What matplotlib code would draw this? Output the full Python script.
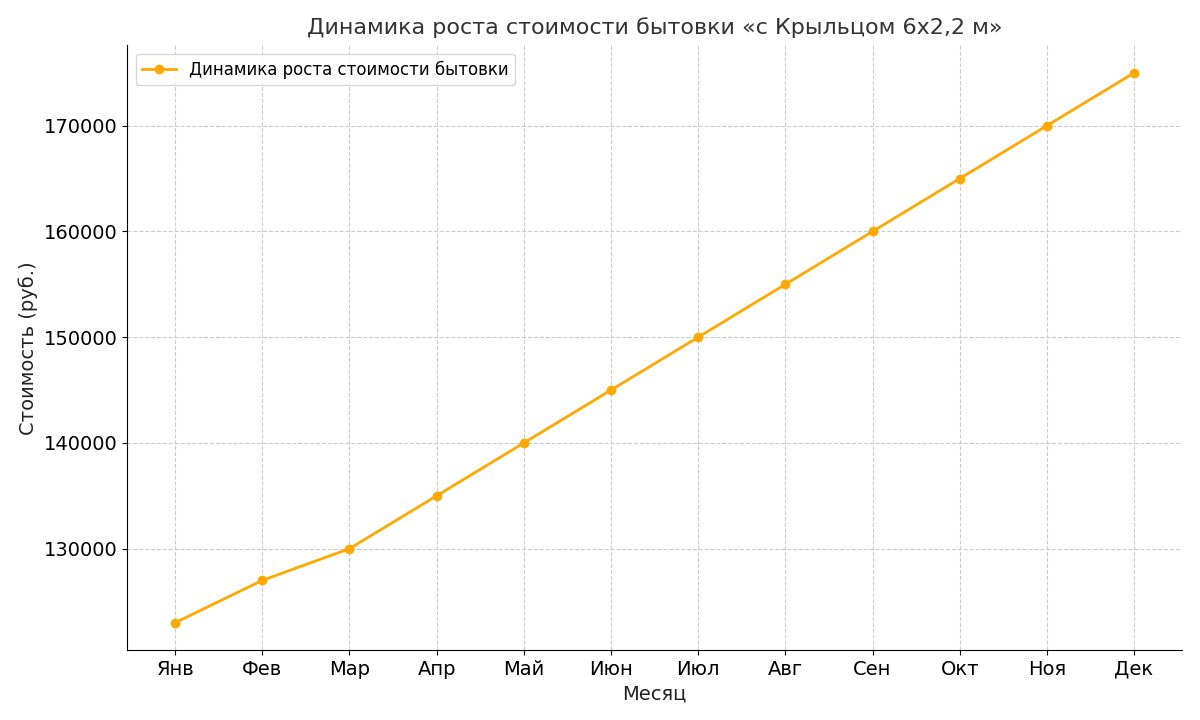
import matplotlib
matplotlib.use("Agg")
import matplotlib.pyplot as plt

months = ["Янв", "Фев", "Мар", "Апр", "Май", "Июн", "Июл", "Авг", "Сен", "Окт", "Ноя", "Дек"]
prices = [123000, 127000, 130000, 135000, 140000, 145000, 150000, 155000, 160000, 165000, 170000, 175000]

fig = plt.figure(figsize=(12, 7.2), dpi=100)
ax = fig.add_axes([0.106, 0.097, 0.879, 0.84])
ax.plot(months, prices, marker="o", color="#FFA800", linewidth=2, markersize=6,
        label="Динамика роста стоимости бытовки")
ax.set_title("Динамика роста стоимости бытовки «с Крыльцом 6х2,2 м»", fontsize=16, color="#333333", pad=8)
ax.set_xlabel("Месяц", fontsize=14, color="#222222")
ax.set_ylabel("Стоимость (руб.)", fontsize=14, color="#222222")
ax.tick_params(labelsize=14)
ax.grid(True, linestyle="--", color="#cccccc", linewidth=0.8)
ax.spines["top"].set_visible(False)
ax.spines["right"].set_visible(False)
ax.legend(loc="upper left", fontsize=12)
fig.savefig("out.png", dpi=100)
